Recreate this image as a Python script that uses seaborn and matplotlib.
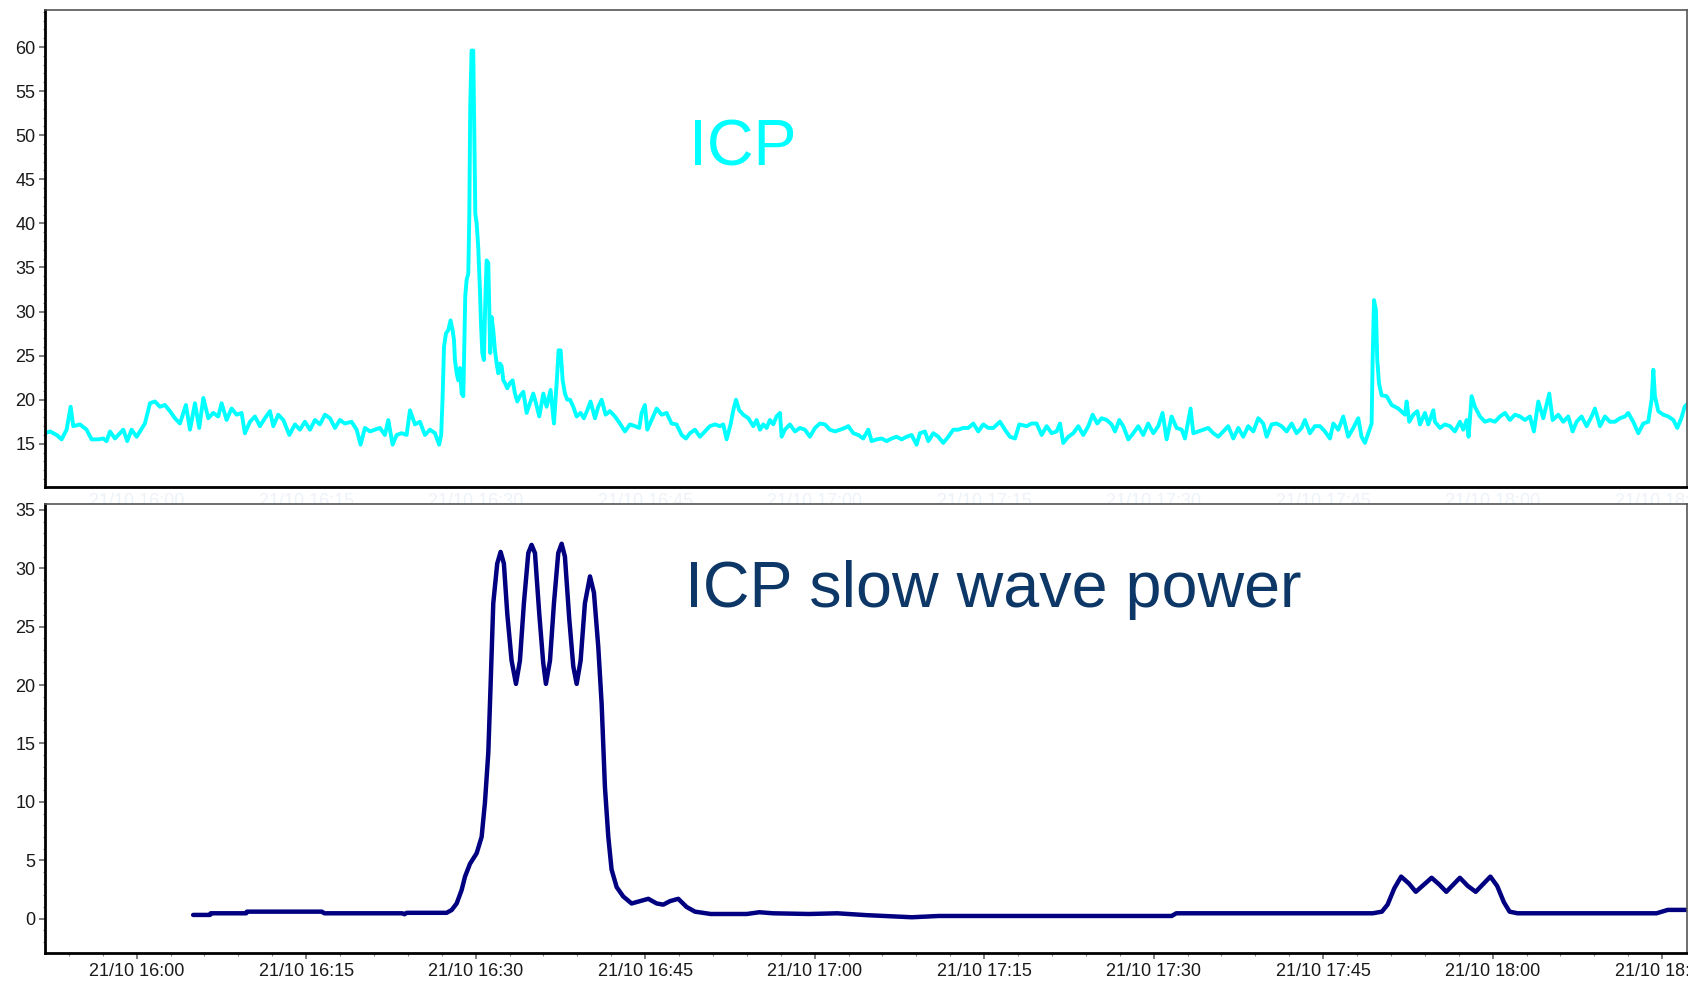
import numpy as np
import pandas as pd
import matplotlib
matplotlib.use("Agg")
import matplotlib.pyplot as plt
import matplotlib.dates as mdates
from matplotlib.ticker import MultipleLocator
import seaborn as sns

# ---------------- data (minutes after 21/10 16:00) ----------------
icp_minutes = [
    -8.12, -7.67, -7.08, -6.64, -6.20, -5.84, -5.61, -5.02, -4.43, -3.99, -3.40, -2.95, -2.66, -2.36,
    -1.92, -1.48, -1.18, -0.83, -0.45, 0.00, 0.29, 0.73, 1.18, 1.62, 2.06, 2.50, 2.95, 3.39, 3.83,
    4.36, 4.72, 5.16, 5.54, 5.90, 6.34, 6.78, 7.22, 7.52, 7.96, 8.40, 8.85, 9.29, 9.58, 10.03, 10.47,
    10.91, 11.35, 11.80, 12.09, 12.53, 12.98, 13.51, 14.01, 14.45, 14.89, 15.34, 15.78, 16.22, 16.66,
    17.11, 17.55, 17.99, 18.43, 19.02, 19.47, 19.82, 20.20, 20.65, 21.09, 21.53, 21.97, 22.27, 22.65,
    23.01, 23.45, 23.89, 24.19, 24.63, 25.07, 25.51, 25.96, 26.40, 26.77, 26.95, 27.08, 27.20, 27.37,
    27.58, 27.78, 27.96, 28.08, 28.17, 28.32, 28.46, 28.61, 28.76, 28.91, 28.99, 29.08, 29.20, 29.35,
    29.44, 29.52, 29.64, 29.79, 29.88, 29.97, 30.09, 30.23, 30.38, 30.47, 30.59, 30.73, 30.85, 30.97,
    31.12, 31.21, 31.29, 31.41, 31.56, 31.71, 31.86, 32.00, 32.15, 32.30, 32.45, 32.59, 32.80, 33.04,
    33.27, 33.48, 33.68, 33.92, 34.22, 34.51, 34.81, 35.10, 35.34, 35.63, 35.99, 36.28, 36.63, 36.93,
    37.17, 37.34, 37.52, 37.70, 37.90, 38.11, 38.35, 38.64, 38.94, 39.29, 39.58, 39.88, 40.17, 40.56,
    40.85, 41.15, 41.50, 41.89, 42.33, 42.77, 43.21, 43.66, 44.10, 44.48, 44.69, 44.98, 45.19, 45.57,
    46.02, 46.46, 46.90, 47.34, 47.78, 48.23, 48.61, 48.96, 49.41, 49.85, 50.29, 50.73, 51.18, 51.62,
    51.91, 52.21, 52.56, 52.80, 53.04, 53.33, 53.68, 54.13, 54.57, 54.86, 55.16, 55.45, 55.75, 56.04,
    56.34, 56.63, 56.93, 57.08, 57.37, 57.81, 58.26, 58.70, 59.14, 59.58, 60.03, 60.47, 60.91, 61.35,
    61.80, 62.24, 62.68, 62.98, 63.42, 63.86, 64.30, 64.75, 65.04, 65.48, 65.93, 66.37, 66.81, 67.25,
    67.70, 68.14, 68.58, 69.02, 69.32, 69.76, 70.06, 70.50, 70.94, 71.38, 71.83, 72.27, 72.71, 73.15,
    73.60, 74.04, 74.48, 74.92, 75.37, 75.81, 76.40, 76.84, 77.28, 77.73, 78.11, 78.76, 79.20, 79.64,
    80.09, 80.53, 80.97, 81.41, 81.71, 82.00, 82.45, 82.89, 83.33, 83.77, 84.22, 84.60, 85.01, 85.40,
    85.84, 86.28, 86.58, 86.96, 87.31, 87.76, 88.20, 88.64, 89.08, 89.52, 89.97, 90.41, 90.79, 91.15,
    91.59, 92.03, 92.48, 92.77, 93.27, 93.51, 93.95, 94.39, 94.83, 95.28, 95.72, 96.16, 96.60, 97.05,
    97.49, 97.93, 98.37, 98.82, 99.26, 99.70, 100.00, 100.44, 100.88, 101.32, 101.77, 102.21, 102.65,
    103.09, 103.39, 103.83, 104.27, 104.72, 105.16, 105.60, 105.90, 106.34, 106.78, 107.22, 107.67,
    108.11, 108.40, 108.70, 109.00, 109.29, 109.38, 109.50, 109.67, 109.79, 109.94, 110.17, 110.62,
    111.06, 111.65, 112.24, 112.39, 112.62, 112.98, 113.33, 113.57, 114.01, 114.30, 114.75, 114.89,
    115.34, 115.78, 116.22, 116.66, 117.11, 117.40, 117.70, 117.87, 118.14, 118.43, 118.88, 119.32,
    119.76, 120.20, 120.65, 121.09, 121.53, 121.97, 122.42, 122.86, 123.30, 123.65, 124.04, 124.48,
    125.01, 125.31, 125.81, 126.25, 126.69, 127.08, 127.43, 127.87, 128.32, 128.76, 129.05, 129.50,
    129.94, 130.38, 130.82, 131.27, 131.71, 132.00, 132.44, 132.89, 133.33, 133.77, 134.07, 134.22,
    134.36, 134.66, 135.10, 135.54, 135.99, 136.34, 136.70, 136.99, 137.30,
]
icp_values = [
    16.2, 16.4, 16.0, 15.5, 16.6, 19.2, 17.0, 17.2, 16.6, 15.5, 15.5, 15.6, 15.3, 16.4,
    15.6, 16.2, 16.6, 15.3, 16.6, 15.8, 16.4, 17.3, 19.6, 19.8, 19.2, 19.4, 18.7, 17.9, 17.3,
    19.4, 16.6, 19.6, 16.8, 20.2, 17.9, 18.5, 18.1, 19.6, 17.7, 19.0, 18.3, 18.5, 16.2, 17.5, 18.1,
    17.0, 17.9, 18.7, 17.0, 18.3, 17.7, 16.0, 17.2, 16.6, 17.5, 16.6, 17.7, 17.2, 18.3,
    17.9, 16.8, 17.7, 17.3, 17.5, 16.6, 14.9, 16.8, 16.4, 16.6, 16.8, 16.0, 17.7, 14.9,
    16.0, 16.2, 16.0, 18.8, 17.2, 17.5, 16.0, 16.6, 16.2, 14.9, 16.0, 20.4, 26.0, 27.5,
    27.9, 29.0, 27.9, 26.8, 24.5, 23.0, 22.2, 23.6, 20.7, 20.4, 25.7, 31.7, 33.6, 34.3,
    40.9, 53.2, 59.6, 59.6, 50.5, 41.1, 40.0, 37.3, 32.4, 28.7, 25.3, 24.5, 30.9, 35.8,
    35.5, 30.2, 25.3, 29.4, 27.9, 25.6, 24.1, 23.0, 24.1, 23.8, 22.2, 21.9, 21.3, 21.9,
    22.2, 20.7, 19.8, 20.4, 20.9, 18.5, 19.6, 20.7, 19.6, 18.1, 20.7, 19.2, 21.1, 17.3,
    21.9, 25.6, 25.6, 22.2, 20.7, 20.0, 20.0, 19.2, 18.1, 18.5, 17.9, 18.8, 19.8, 17.9,
    19.2, 20.0, 18.3, 18.7, 18.1, 17.3, 16.4, 17.2, 17.0, 16.8, 18.5, 19.4, 16.6, 17.7,
    19.0, 18.3, 18.5, 17.3, 17.2, 16.0, 15.6, 16.2, 16.6, 15.8, 16.4, 17.0, 17.2, 17.0,
    17.2, 15.5, 17.2, 18.8, 20.0, 18.8, 18.3, 17.9, 17.0, 17.7, 16.6, 17.2, 16.8, 17.7,
    17.2, 18.1, 18.5, 15.8, 16.6, 17.2, 16.4, 16.8, 16.6, 15.8, 16.8, 17.3, 17.2, 16.6,
    16.4, 16.6, 16.8, 17.0, 16.2, 16.0, 15.6, 16.6, 15.3, 15.5, 15.6, 15.3, 15.6, 15.8,
    15.5, 15.8, 16.0, 14.9, 16.2, 16.4, 15.3, 16.2, 15.8, 15.1, 15.8, 16.6, 16.6, 16.8,
    16.8, 17.3, 16.4, 17.2, 16.8, 16.8, 17.5, 16.6, 15.8, 15.6, 17.2, 17.0, 17.3, 17.3,
    16.0, 17.0, 16.2, 16.4, 17.3, 15.1, 15.8, 16.2, 17.0, 16.0, 17.0, 18.3, 17.3, 17.9,
    17.7, 17.2, 16.4, 17.7, 17.0, 15.5, 16.2, 17.0, 16.0, 17.3, 16.2, 17.0, 18.5, 15.5,
    18.1, 16.8, 16.6, 15.6, 19.0, 16.2, 16.4, 16.6, 16.8, 16.2, 15.8, 16.4, 17.0, 15.6,
    16.8, 15.8, 17.0, 16.4, 17.9, 17.3, 15.8, 17.2, 17.3, 17.0, 16.4, 17.3, 16.2,
    16.8, 17.7, 16.2, 17.0, 17.0, 16.4, 15.6, 17.3, 16.6, 18.1, 15.8, 16.8,
    17.9, 15.8, 15.1, 16.2, 17.3, 24.5, 31.3, 30.2, 24.5, 21.9, 20.5, 20.4,
    19.4, 19.0, 18.3, 19.8, 17.5, 18.3, 18.7, 17.2, 18.5, 17.2, 18.8, 17.5,
    16.8, 17.2, 17.0, 16.4, 17.5, 16.6, 17.7, 15.8, 20.4, 19.2, 18.1, 17.5,
    17.7, 17.5, 18.1, 18.5, 17.7, 18.3, 18.1, 17.7, 18.1, 16.4, 19.8, 17.9,
    20.7, 17.7, 18.3, 17.5, 18.1, 16.4, 17.5, 18.1, 17.0, 18.1, 19.0, 17.0,
    18.1, 17.5, 17.5, 17.9, 18.1, 18.5, 17.5, 16.2, 17.3, 17.5, 20.0, 23.4,
    20.4, 18.7, 18.3, 18.1, 17.7, 16.8, 17.9, 19.2, 19.6,
]

swp_minutes = [
    5.0, 6.5, 6.55, 9.7, 9.75, 16.4, 16.6, 23.5, 23.7, 23.9, 27.43, 27.88, 28.32, 28.76, 29.06,
    29.50, 30.09, 30.53, 30.82, 31.12, 31.32, 31.56, 31.91, 32.21, 32.50, 32.80, 33.18, 33.57,
    33.92, 34.27, 34.66, 34.95, 35.25, 35.63, 35.98, 36.22, 36.58, 36.93, 37.31, 37.61, 37.90,
    38.29, 38.64, 38.94, 39.29, 39.67, 40.12, 40.47, 40.85, 41.15, 41.44, 41.74, 42.03, 42.48,
    43.06, 43.80, 44.54, 45.28, 46.02, 46.60, 47.20, 47.93, 48.67, 49.41, 50.8, 54.0, 55.1,
    56.3, 59.5, 62.0, 64.6, 68.6, 71.0, 76.4, 91.6, 92.0, 109.4, 110.2, 110.7, 111.3, 111.9,
    112.6, 113.2, 113.9, 114.6, 115.3, 115.9, 116.5, 117.1, 117.8, 118.5, 119.1, 119.8, 120.4,
    121.0, 121.5, 122.2, 134.5, 135.5, 137.3,
]
swp_values = [
    0.32, 0.32, 0.46, 0.46, 0.60, 0.60, 0.46, 0.46, 0.38, 0.50, 0.50, 0.74, 1.3, 2.45, 3.6,
    4.7, 5.6, 7.0, 9.9, 14.2, 19.9, 27.0, 30.4, 31.4, 30.4, 26.1, 22.1, 20.1,
    22.1, 27.0, 31.3, 32.0, 31.3, 26.1, 21.9, 20.1, 22.1, 27.0, 31.3, 32.1, 31.0,
    25.6, 21.6, 20.1, 22.1, 27.0, 29.3, 27.9, 23.3, 18.4, 11.3, 7.0, 4.2, 2.7,
    1.9, 1.3, 1.5, 1.7, 1.3, 1.2, 1.5, 1.7, 1.0, 0.6, 0.4, 0.4, 0.55,
    0.46, 0.4, 0.46, 0.3, 0.12, 0.23, 0.23, 0.23, 0.46, 0.46, 0.6, 1.2, 2.6, 3.6,
    3.0, 2.3, 2.9, 3.5, 2.9, 2.3, 2.9, 3.5, 2.8, 2.3, 2.9, 3.6, 2.8,
    1.4, 0.6, 0.46, 0.46, 0.75, 0.75,
]

icp_ticks = [15, 20, 25, 30, 35, 40, 45, 50, 55, 60]
swp_ticks = [0, 5, 10, 15, 20, 25, 30, 35]
start_time = "2000-10-21 16:00:00"
x_start_min, x_end_min = -8.11, 137.2

# ---------------- build frames ----------------
t0 = pd.Timestamp(start_time)
icp_df = pd.DataFrame({"time": t0 + pd.to_timedelta(icp_minutes, unit="m"), "ICP": icp_values})
swp_df = pd.DataFrame({"time": t0 + pd.to_timedelta(swp_minutes, unit="m"), "SWP": swp_values})

sns.set_style("white")
plt.rcParams["font.family"] = ["Liberation Sans", "DejaVu Sans"]

W, H = 1688, 985
fig = plt.figure(figsize=(W / 100, H / 100), dpi=100)
ax1 = fig.add_axes([45 / W, 1 - 487 / H, (1687 - 45) / W, (487 - 10) / H])
ax2 = fig.add_axes([45 / W, 1 - 953 / H, (1687 - 45) / W, (953 - 504) / H])

sns.lineplot(data=icp_df, x="time", y="ICP", ax=ax1, color="#00FFFF", linewidth=2.8, estimator=None, sort=False)
sns.lineplot(data=swp_df, x="time", y="SWP", ax=ax2, color="#000080", linewidth=3.2, estimator=None, sort=False)

xlim = (t0 + pd.Timedelta(minutes=x_start_min), t0 + pd.Timedelta(minutes=x_end_min))
for ax in (ax1, ax2):
    ax.set_xlim(mdates.date2num(xlim[0]), mdates.date2num(xlim[1]))
    ax.set_xlabel("")
    ax.set_ylabel("")
    ax.xaxis.set_major_locator(mdates.MinuteLocator(byminute=[0, 15, 30, 45]))
    ax.xaxis.set_minor_locator(mdates.MinuteLocator(byminute=range(0, 60, 3)))
    ax.xaxis.set_major_formatter(mdates.DateFormatter("%d/%m %H:%M"))
    ax.yaxis.set_minor_locator(MultipleLocator(1))
    ax.tick_params(axis="y", which="major", length=4.3, width=1.2, color="#666666",
                   labelsize=13, labelcolor="#1a1a1a", pad=2.5, left=True)
    ax.tick_params(axis="y", which="minor", length=1.5, width=0.8, color="#777777", left=True)
    for side in ("left", "bottom"):
        ax.spines[side].set_color("#000000")
        ax.spines[side].set_linewidth(2.0)
    for side in ("top", "right"):
        ax.spines[side].set_color("#555555")
        ax.spines[side].set_linewidth(1.2)
    ax.set_facecolor("white")

ax1.set_ylim(10.1, 64.2)
ax1.set_yticks(icp_ticks)
ax1.tick_params(axis="x", which="both", length=0, labelsize=13, labelcolor="#edf2f9", pad=4.5)

ax2.set_ylim(-2.94, 35.5)
ax2.set_yticks(swp_ticks)
ax2.tick_params(axis="x", which="major", length=4, width=1.2, color="#666666",
                labelsize=13, labelcolor="#1a1a1a", pad=3, bottom=True)
ax2.tick_params(axis="x", which="minor", length=2, width=0.8, color="#888888", bottom=True)

fig.text(689 / W, 1 - 166 / H, "ICP", color="#00FFFF", fontsize=46.5, va="baseline", ha="left")
fig.text(685 / W, 1 - 607 / H, "ICP slow wave power", color="#0c3766", fontsize=46.5,
         va="baseline", ha="left")

fig.savefig("out.png", dpi=100)
